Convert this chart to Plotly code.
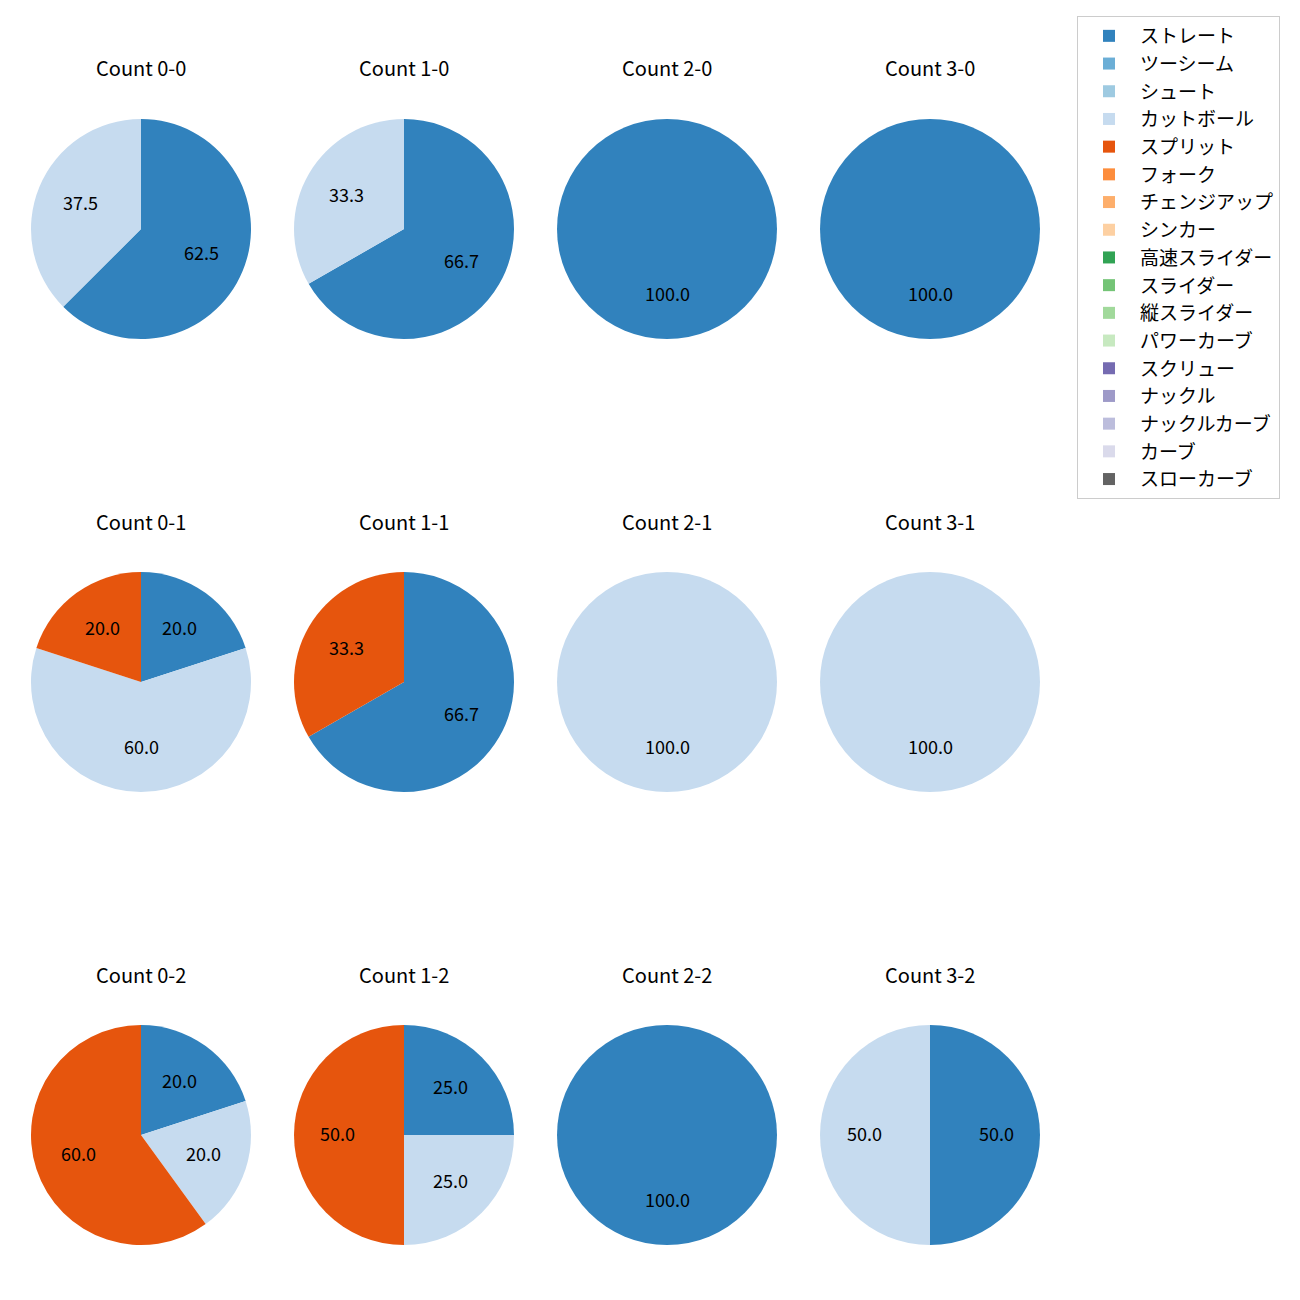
import math
import plotly.graph_objects as go

pitch_types = ["ストレート", "ツーシーム", "シュート", "カットボール", "スプリット", "フォーク",
               "チェンジアップ", "シンカー", "高速スライダー", "スライダー", "縦スライダー",
               "パワーカーブ", "スクリュー", "ナックル", "ナックルカーブ", "カーブ", "スローカーブ"]
colors = ["#3182bd", "#6baed6", "#9ecae1", "#c6dbef", "#e6550d", "#fd8d3c", "#fdae6b", "#fdd0a2",
          "#31a354", "#74c476", "#a1d99b", "#c7e9c0", "#756bb1", "#9e9ac8", "#bcbddc", "#dadaeb",
          "#636363"]

counts = ["0-0", "1-0", "2-0", "3-0",
          "0-1", "1-1", "2-1", "3-1",
          "0-2", "1-2", "2-2", "3-2"]

# share (%) per count for each pitch type actually thrown
straight = [62.5, 66.7, 100.0, 100.0, 20.0, 66.7, 0.0, 0.0, 20.0, 25.0, 100.0, 50.0]
cutball = [37.5, 33.3, 0.0, 0.0, 60.0, 0.0, 100.0, 100.0, 20.0, 25.0, 0.0, 50.0]
split = [0.0, 0.0, 0.0, 0.0, 20.0, 33.3, 0.0, 0.0, 60.0, 50.0, 0.0, 0.0]

series = {"ストレート": straight, "カットボール": cutball, "スプリット": split}

# page has an 8px body margin; figure is 1284 px so the window holds it exactly
OFF = 8
W = H = 1284
col_cx = [141 - OFF, 404 - OFF, 667 - OFF, 930 - OFF]
row_cy = [229 - OFF, 682 - OFF, 1135 - OFF]
R = 110
FONT = "Noto Sans CJK JP"

fig = go.Figure()
annotations = []
for i, cnt in enumerate(counts):
    r, c = divmod(i, 4)
    cx, cy = col_cx[c], row_cy[r]
    vals = [series[p][i] if p in series else 0.0 for p in pitch_types]
    fig.add_trace(go.Pie(
        labels=pitch_types, values=vals, sort=False, direction="clockwise", rotation=0,
        marker=dict(colors=colors, line=dict(width=0)),
        textinfo="none", hoverinfo="label+value",
        domain=dict(x=[(cx - R) / W, (cx + R) / W], y=[1 - (cy + R) / H, 1 - (cy - R) / H]),
        showlegend=(i == 0),
    ))
    total = sum(vals)
    cum = 0.0
    for v in vals:
        if v > 0:
            theta = math.radians(90 - 360 * (cum + v / 2) / total)
            tx = cx + 0.6 * R * math.cos(theta)
            ty = cy - 0.6 * R * math.sin(theta)
            annotations.append(dict(x=tx / W, y=1 - ty / H, xref="paper", yref="paper",
                                    xanchor="center", yanchor="middle", yshift=2,
                                    text=f"{v:.1f}", showarrow=False,
                                    font=dict(size=18, color="black", family=FONT)))
        cum += v
    annotations.append(dict(x=cx / W, y=1 - (cy - 160) / H, xref="paper", yref="paper",
                            xanchor="center", yanchor="middle", yshift=1,
                            text=f"Count {cnt}", showarrow=False,
                            font=dict(size=20, color="black", family=FONT)))

fig.update_layout(
    width=W, height=H, margin=dict(l=0, r=0, t=0, b=0),
    paper_bgcolor="white", plot_bgcolor="white",
    font=dict(family=FONT, color="black"),
    annotations=annotations,
    legend=dict(x=(1077 - OFF) / W, y=1 - (16 - OFF) / H, xanchor="left", yanchor="top",
                bordercolor="#cccccc", borderwidth=1, font=dict(size=19, family=FONT),
                traceorder="normal", itemwidth=52),
)
fig.write_html("out.html")
